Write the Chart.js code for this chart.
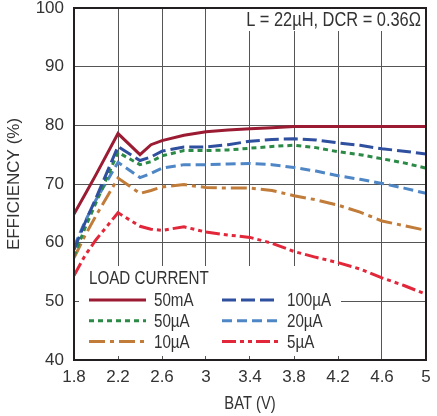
<!DOCTYPE html>
<html>
<head>
<meta charset="utf-8">
<script src="https://cdn.jsdelivr.net/npm/chart.js@4"></script>
<style>
	html, body { margin: 0; padding: 0; background: #fff; }
	canvas { display: block; }
</style>
</head>
<body>
<canvas id="chart" width="437" height="416"></canvas>
<script>
// battery voltage samples (V)
var batV = [1.8, 1.9, 2.0, 2.2, 2.4, 2.5, 2.6, 2.8, 3.0, 3.2, 3.4, 3.6, 3.8, 4.0, 4.2, 4.4, 4.6, 4.8, 5.0];

// efficiency (%) per load current
var eff50mA  = [64.9, 68.2, 71.6, 78.6, 75.0, 76.7, 77.4, 78.3, 78.9, 79.2, 79.4, 79.6, 79.8, 79.8, 79.8, 79.8, 79.8, 79.8, 79.8];
var eff100uA = [58.8, 63.4, 67.6, 76.4, 74.0, 74.6, 75.6, 76.3, 76.3, 76.7, 77.3, 77.6, 77.7, 77.5, 77.0, 76.6, 76.0, 75.6, 75.1];
var eff50uA  = [57.7, 62.5, 66.8, 75.4, 73.3, 73.8, 74.8, 75.7, 75.7, 75.8, 76.1, 76.4, 76.6, 76.2, 75.5, 75.0, 74.3, 73.6, 72.7];
var eff20uA  = [59.3, 63.6, 67.3, 73.7, 71.1, 71.8, 72.7, 73.3, 73.3, 73.4, 73.5, 73.3, 72.8, 72.2, 71.4, 70.8, 70.1, 69.3, 68.4];
var eff10uA  = [57.4, 61.2, 64.6, 71.0, 68.4, 68.9, 69.5, 69.9, 69.4, 69.3, 69.3, 68.9, 68.0, 67.3, 66.4, 65.2, 63.7, 62.9, 62.1];
var eff5uA   = [54.4, 57.8, 60.5, 65.1, 62.8, 62.3, 62.1, 62.7, 61.8, 61.3, 60.9, 59.9, 58.5, 57.5, 56.6, 55.5, 54.0, 52.7, 51.2];

var seriesLabels = ['50mA', '100µA', '50µA', '20µA', '10µA', '5µA'];
var xTicks = [1.8, 2.2, 2.6, 3, 3.4, 3.8, 4.2, 4.6, 5];
var yTicks = [40, 50, 60, 70, 80, 90, 100];

var FONT = '"Liberation Sans", Arial, sans-serif';
var TEXT = '#333';

function pts(vals) {
	return vals.map(function (v, i) { return { x: batV[i], y: v }; });
}

function ds(label, vals, color, dash) {
	return {
		label: label,
		data: pts(vals),
		borderColor: color,
		borderWidth: 3,
		borderDash: dash,
		pointRadius: 0,
		tension: 0,
		fill: false
	};
}

var datasets = [
	ds(seriesLabels[0], eff50mA, '#9b1b33', []),
	ds(seriesLabels[1], eff100uA, '#2f4f9f', [14, 5]),
	ds(seriesLabels[2], eff50uA, '#2b8a45', [5, 4]),
	ds(seriesLabels[3], eff20uA, '#4e86c6', [10, 5]),
	ds(seriesLabels[4], eff10uA, '#c17c3a', [16, 5, 4, 5]),
	ds(seriesLabels[5], eff5uA, '#e2273a', [14, 4, 4, 4, 4, 4])
];

// condensed text: regular font squeezed sideways
function narrowText(c, text, x, y, size, align) {
	c.save();
	c.translate(x, y);
	c.scale(0.82, 1);
	c.font = size + 'px ' + FONT;
	c.textAlign = align || 'left';
	c.textBaseline = 'middle';
	c.fillStyle = TEXT;
	c.fillText(text, 0, 0);
	c.restore();
}

// white boxes behind legend and note, then legend/note text, x title and frame
var overlay = {
	id: 'overlay',
	beforeDatasetsDraw: function (chart) {
		var c = chart.ctx;
		c.save();
		c.fillStyle = '#fff';
		c.fillRect(79, 266, 262, 90);
		c.fillRect(240, 9, 185, 22);
		c.restore();
	},
	afterDatasetsDraw: function (chart) {
		var c = chart.ctx, a = chart.chartArea;
		c.save();
		narrowText(c, 'LOAD CURRENT', 89, 279, 18.5);
		chart.data.datasets.forEach(function (d, i) {
			var col = i % 2, row = Math.floor(i / 2);
			var x0 = col === 0 ? 89 : 222;
			var y = 300 + row * 20.8;
			c.strokeStyle = d.borderColor;
			c.lineWidth = 3;
			c.setLineDash(d.borderDash);
			c.beginPath();
			c.moveTo(x0, y);
			c.lineTo(x0 + 57, y);
			c.stroke();
			c.setLineDash([]);
			narrowText(c, d.label, x0 + 65, y + 1, 18.5);
		});
		narrowText(c, 'L = 22µH, DCR = 0.36Ω', 421, 20, 20, 'right');
		narrowText(c, 'BAT (V)', (a.left + a.right) / 2, 404, 18, 'center');
		c.strokeStyle = '#231f20';
		c.lineWidth = 2;
		c.strokeRect(a.left, a.top, a.right - a.left, a.bottom - a.top);
		c.restore();
	}
};

new Chart(document.getElementById('chart'), {
	type: 'line',
	data: { datasets: datasets },
	options: {
		responsive: false,
		animation: false,
		layout: { padding: { top: 8, right: 11, left: 0, bottom: 0 } },
		plugins: { legend: { display: false }, tooltip: { enabled: false } },
		scales: {
			x: {
				type: 'linear',
				min: 1.8,
				max: 5,
				afterBuildTicks: function (s) { s.ticks = xTicks.map(function (v) { return { value: v }; }); },
				afterFit: function (s) { s.height = 56; s.paddingLeft = 0; s.paddingRight = 0; },
				grid: { color: '#555', lineWidth: 1, drawTicks: false },
				border: { display: false },
				ticks: {
					autoSkip: false,
					maxRotation: 0,
					padding: 7,
					color: TEXT,
					font: { family: FONT, size: 17 },
					callback: function (v) { return String(Math.round(v * 10) / 10); }
				}
			},
			y: {
				min: 40,
				max: 100,
				afterBuildTicks: function (s) { s.ticks = yTicks.map(function (v) { return { value: v }; }); },
				afterFit: function (s) { s.width = 74; s.paddingTop = 0; s.paddingBottom = 0; },
				grid: { color: '#555', lineWidth: 1, drawTicks: false },
				border: { display: false },
				ticks: {
					padding: 10,
					color: TEXT,
					font: { family: FONT, size: 17 }
				},
				title: {
					display: true,
					text: 'EFFICIENCY (%)',
					color: TEXT,
					font: { family: FONT, size: 17 },
					padding: { top: 4, bottom: 0 }
				}
			}
		}
	},
	plugins: [overlay]
});
</script>
</body>
</html>
